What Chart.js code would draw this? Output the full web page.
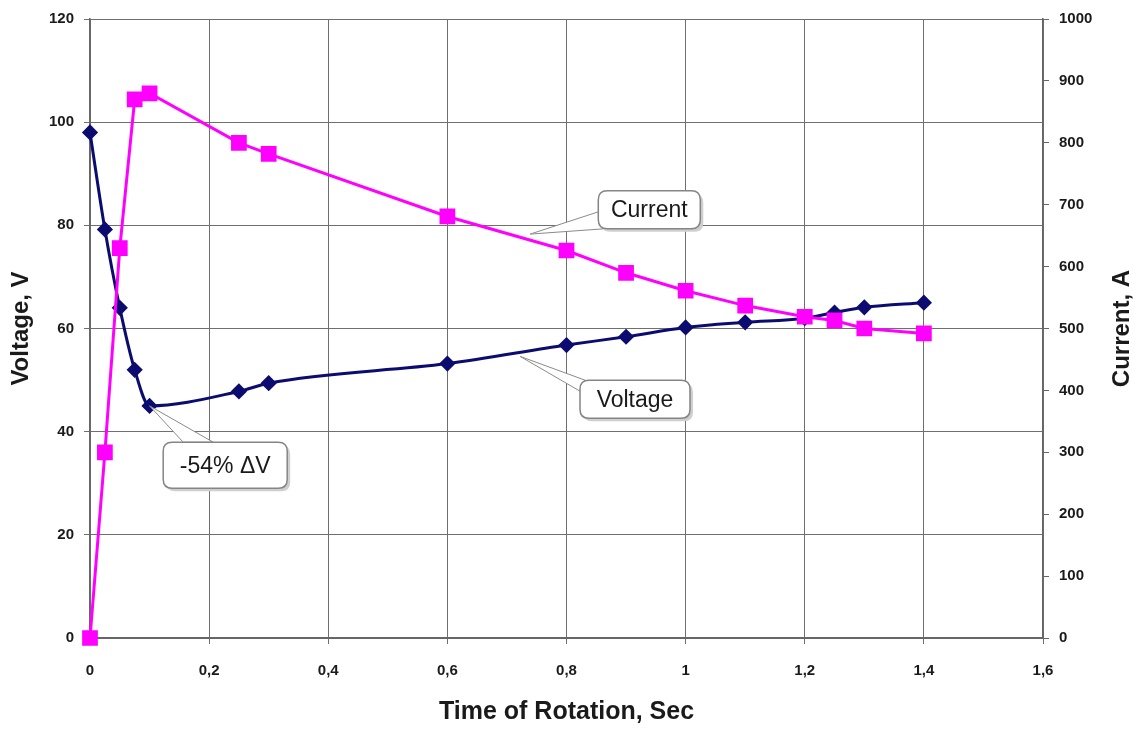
<!DOCTYPE html>
<html>
<head>
<meta charset="utf-8">
<script src="https://cdn.jsdelivr.net/npm/chart.js@4.4.1/dist/chart.umd.min.js"></script>
<style>
  html, body { margin: 0; padding: 0; background: #fff; }
  #wrap { width: 1143px; height: 730px; }
</style>
</head>
<body>
<div id="wrap"><canvas id="chart"></canvas></div>
<script>
// values
const time = [0, 0.025, 0.05, 0.075, 0.1, 0.25, 0.3, 0.6, 0.8, 0.9, 1.0, 1.1, 1.2, 1.25, 1.3, 1.4];
const voltage = [98, 79.2, 64, 52, 45, 47.8, 49.4, 53.2, 56.8, 58.4, 60.2, 61.2, 62, 63.1, 64.1, 65];
const current = [0, 300, 630, 870, 880, 800, 782, 681, 626, 590, 561, 537, 519, 513, 500, 492];

const xTickLabels = ['0', '0,2', '0,4', '0,6', '0,8', '1', '1,2', '1,4', '1,6'];

const font = 'Liberation Sans, Arial, sans-serif';

// callout boxes, centre and tip given in (time, voltage) units
const callouts = [
  { text: 'Current', x: 0.939, y: 83.0, w: 102, h: 38, tipX: 0.739, tipY: 78.3, base: [[-51, 2], [-46, 19]] },
  { text: 'Voltage', x: 0.915, y: 46.3, w: 110, h: 38, tipX: 0.722, tipY: 54.6, base: [[-50, -19], [-55, -8]] },
  { text: '-54% \u0394V', x: 0.227, y: 33.5, w: 124, h: 46, tipX: 0.1, tipY: 45, base: [[-42, -23], [-12, -23]] }
];

function roundRect(ctx, x, y, w, h, r) {
  ctx.beginPath();
  ctx.moveTo(x + r, y);
  ctx.lineTo(x + w - r, y);
  ctx.quadraticCurveTo(x + w, y, x + w, y + r);
  ctx.lineTo(x + w, y + h - r);
  ctx.quadraticCurveTo(x + w, y + h, x + w - r, y + h);
  ctx.lineTo(x + r, y + h);
  ctx.quadraticCurveTo(x, y + h, x, y + h - r);
  ctx.lineTo(x, y + r);
  ctx.quadraticCurveTo(x, y, x + r, y);
  ctx.closePath();
}

const calloutPlugin = {
  id: 'callouts',
  afterDatasetsDraw(chart) {
    const ctx = chart.ctx;
    const sx = chart.scales.x, sy = chart.scales.y;
    ctx.save();
    callouts.forEach(c => {
      const cx = sx.getPixelForValue(c.x);
      const cy = sy.getPixelForValue(c.y);
      const tx = sx.getPixelForValue(c.tipX);
      const ty = sy.getPixelForValue(c.tipY);
      const bx = cx - c.w / 2, by = cy - c.h / 2;

      // leader wedge
      ctx.beginPath();
      ctx.moveTo(cx + c.base[0][0], cy + c.base[0][1]);
      ctx.lineTo(tx, ty);
      ctx.lineTo(cx + c.base[1][0], cy + c.base[1][1]);
      ctx.closePath();
      ctx.fillStyle = '#fff';
      ctx.fill();
      ctx.strokeStyle = '#8a8a8a';
      ctx.lineWidth = 1;
      ctx.stroke();

      // shadow
      roundRect(ctx, bx + 3, by + 3, c.w, c.h, 9);
      ctx.fillStyle = '#cfcfcf';
      ctx.fill();
      // box
      roundRect(ctx, bx, by, c.w, c.h, 9);
      ctx.fillStyle = '#fff';
      ctx.fill();
      ctx.strokeStyle = '#858585';
      ctx.lineWidth = 1.5;
      ctx.stroke();

      ctx.fillStyle = '#1a1a1a';
      ctx.font = '23px ' + font;
      ctx.textAlign = 'center';
      ctx.textBaseline = 'middle';
      ctx.fillText(c.text, cx, cy + 1);
    });

    // right axis title, read bottom to top like the left one
    ctx.translate(chart.width - 21, (chart.chartArea.top + chart.chartArea.bottom) / 2);
    ctx.rotate(-Math.PI / 2);
    ctx.fillStyle = '#1a1a1a';
    ctx.font = 'bold 24px ' + font;
    ctx.textAlign = 'center';
    ctx.textBaseline = 'middle';
    ctx.fillText('Current, A', 0, 0);
    ctx.restore();
  }
};

const ctx = document.getElementById('chart');

new Chart(ctx, {
  type: 'line',
  data: {
    datasets: [{
      label: 'Voltage',
      data: time.map((t, i) => ({ x: t, y: voltage[i] })),
      yAxisID: 'y',
      borderColor: '#0c0c70',
      backgroundColor: '#0c0c70',
      borderWidth: 3,
      pointStyle: 'rectRot',
      pointRadius: 6,
      cubicInterpolationMode: 'monotone',
      clip: false,
      order: 2
    }, {
      label: 'Current',
      data: time.map((t, i) => ({ x: t, y: current[i] })),
      yAxisID: 'y1',
      borderColor: '#ff00ff',
      backgroundColor: '#ff00ff',
      borderWidth: 3,
      pointStyle: 'rect',
      pointRadius: 9,
      tension: 0,
      clip: false,
      order: 1
    }]
  },
  options: {
    responsive: true,
    maintainAspectRatio: false,
    animation: false,
    layout: { padding: { top: 18, left: 0, right: 0, bottom: 0 } },
    plugins: {
      legend: { display: false },
      tooltip: { enabled: false }
    },
    scales: {
      x: {
        type: 'linear',
        min: 0,
        max: 1.6,
        afterFit: s => { s.height = 92; },
        ticks: {
          stepSize: 0.2,
          padding: 18,
          color: '#1a1a1a',
          font: { family: font, size: 15, weight: 'bold' },
          callback: (v, i) => xTickLabels[i] !== undefined ? xTickLabels[i] : String(v).replace('.', ',')
        },
        grid: { color: '#6f6f6f', lineWidth: 1, tickLength: 6 },
        border: { color: '#666', width: 2 },
        title: {
          display: true,
          text: 'Time of Rotation, Sec',
          color: '#1a1a1a',
          font: { family: font, size: 25, weight: 'bold' },
          padding: { top: 0, bottom: 3 }
        }
      },
      y: {
        position: 'left',
        min: 0,
        max: 120,
        afterFit: s => { s.width = 90; },
        ticks: {
          stepSize: 20,
          padding: 10,
          color: '#1a1a1a',
          font: { family: font, size: 15, weight: 'bold' }
        },
        grid: { color: '#6f6f6f', lineWidth: 1, tickLength: 6 },
        border: { color: '#666', width: 1.5 },
        title: {
          display: true,
          text: 'Voltage, V',
          color: '#1a1a1a',
          font: { family: font, size: 24, weight: 'bold' },
          padding: { top: 7, bottom: 0 }
        }
      },
      y1: {
        position: 'right',
        min: 0,
        max: 1000,
        afterFit: s => { s.width = 100; },
        ticks: {
          stepSize: 100,
          padding: 10,
          color: '#1a1a1a',
          font: { family: font, size: 15, weight: 'bold' },
          callback: v => String(v)
        },
        grid: { drawOnChartArea: false, color: '#666', tickLength: 6 },
        border: { color: '#666', width: 1.5 }
      }
    }
  },
  plugins: [calloutPlugin]
});
</script>
</body>
</html>
